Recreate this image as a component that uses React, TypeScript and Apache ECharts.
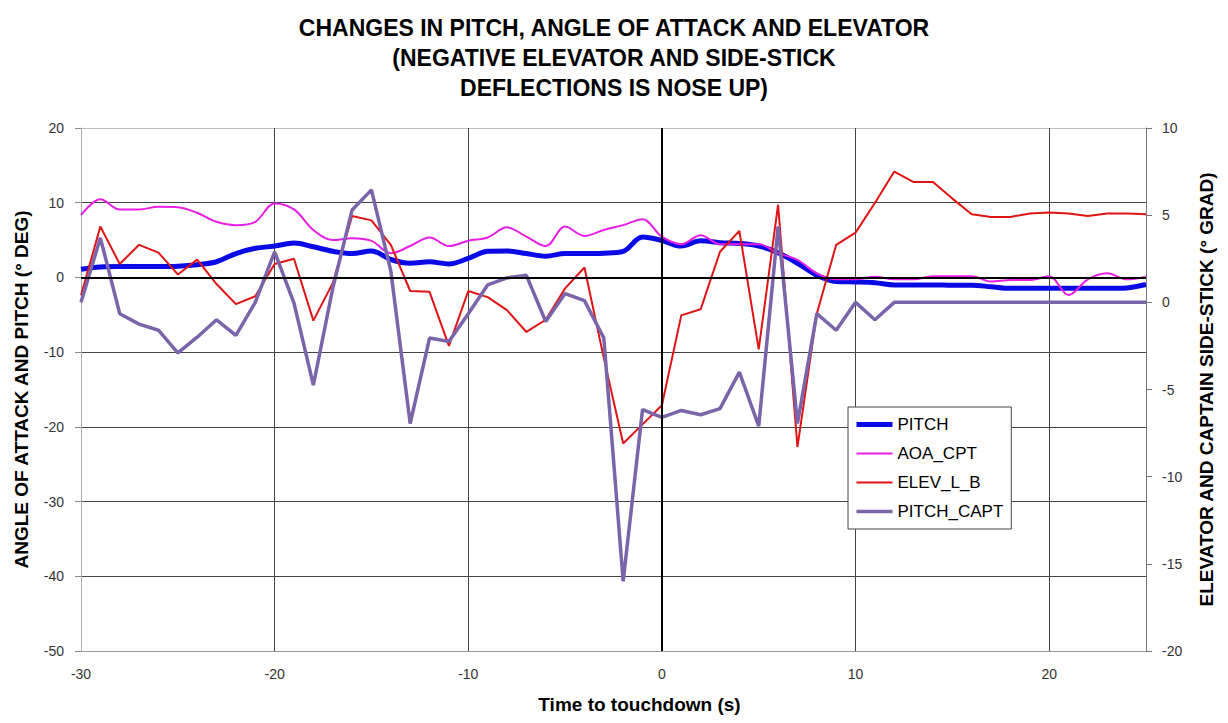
import React, { useEffect, useRef } from "react";
import * as echarts from "echarts";

// Time to touchdown, one sample per second
const time = [
  -30, -29, -28, -27, -26, -25, -24, -23, -22, -21, -20, -19, -18, -17, -16, -15, -14, -13, -12, -11,
  -10, -9, -8, -7, -6, -5, -4, -3, -2, -1, 0, 1, 2, 3, 4, 5, 6, 7, 8, 9,
  10, 11, 12, 13, 14, 15, 16, 17, 18, 19, 20, 21, 22, 23, 24, 25,
];

// Left axis (° DEG)
const pitch = [
  1.1, 1.4, 1.45, 1.45, 1.45, 1.5, 1.7, 2.1, 3.2, 3.9, 4.2, 4.6, 4.1, 3.5, 3.2, 3.55, 2.4, 1.9, 2.1, 1.8,
  2.55, 3.5, 3.55, 3.2, 2.85, 3.2, 3.2, 3.25, 3.5, 5.4, 4.95, 4.2, 4.9, 4.65, 4.55, 4.2, 3.3, 1.9, 0.3, -0.55,
  -0.6, -0.7, -1.0, -1.0, -1.0, -1.05, -1.05, -1.25, -1.45, -1.45, -1.45, -1.45, -1.45, -1.45, -1.4, -0.95,
];

const aoaCpt = [
  8.35, 10.45, 9.1, 9.1, 9.45, 9.4, 8.65, 7.45, 7.0, 7.45, 9.9, 9.1, 6.35, 5.0, 5.25, 4.9, 3.25, 4.2, 5.35, 4.2,
  4.9, 5.35, 6.7, 5.45, 4.2, 6.8, 5.55, 6.35, 7.0, 7.8, 5.45, 4.45, 5.65, 4.45, 4.45, 4.45, 3.25, 2.35, 0.55, -0.25,
  -0.25, 0.1, -0.25, -0.25, 0.15, 0.15, 0.15, -0.55, -0.35, -0.35, 0.15, -2.35, -0.25, 0.55, -0.25, 0.1,
];

// Right axis (° GRAD)
const elevLB = [
  0.4, 4.35, 2.2, 3.3, 2.85, 1.6, 2.45, 1.05, -0.1, 0.35, 2.2, 2.5, -1.05, 1.1, 4.95, 4.7, 3.3, 0.65, 0.6, -2.5,
  0.65, 0.3, -0.45, -1.7, -1.0, 0.8, 2.0, -3.2, -8.1, -7.0, -5.9, -0.75, -0.4, 2.9, 4.1, -2.7, 5.6, -8.3, -0.65, 3.3,
  4.0, 5.7, 7.5, 6.9, 6.9, 5.95, 5.05, 4.9, 4.9, 5.1, 5.15, 5.1, 4.95, 5.1, 5.1, 5.05,
];

const pitchCapt = [
  0.0, 3.7, -0.65, -1.25, -1.6, -2.9, -2.0, -1.0, -1.9, 0.0, 2.9, -0.05, -4.75, 0.8, 5.3, 6.45, 1.8, -6.95, -2.05, -2.25,
  -0.65, 1.0, 1.4, 1.55, -1.1, 0.5, 0.1, -2.05, -16.0, -6.15, -6.6, -6.2, -6.45, -6.1, -4.0, -7.1, 4.35, -6.95, -0.65, -1.6,
  0.0, -1.0, 0, 0, 0, 0, 0, 0, 0, 0, 0, 0, 0, 0, 0, 0,
];

const seriesNames = ["PITCH", "AOA_CPT", "ELEV_L_B", "PITCH_CAPT"];
const seriesColors = ["#0a0ae6", "#e61ee6", "#e01414", "#7a64aa"];
const seriesWidths = [5, 2, 2, 3.5];

const titleLines = [
  "CHANGES IN PITCH, ANGLE OF ATTACK AND ELEVATOR",
  "(NEGATIVE ELEVATOR AND SIDE-STICK",
  "DEFLECTIONS IS NOSE UP)",
];

const FONT = "'Liberation Sans', Arial, Helvetica, sans-serif";

const pairs = (values: number[]) => time.map((t, i) => [t, values[i]]);

export default function App() {
  const ref = useRef<HTMLDivElement>(null);

  useEffect(() => {
    if (!ref.current) return;
    const chart = echarts.init(ref.current, null, { renderer: "svg" });

    const lineSeries = (i: number, values: number[], yAxisIndex: number, smooth: number | boolean) => ({
      name: seriesNames[i],
      type: "line",
      yAxisIndex,
      data: pairs(values),
      smooth,
      symbol: "none",
      color: seriesColors[i],
      lineStyle: { width: seriesWidths[i], color: seriesColors[i] },
    });

    const option = {
      animation: false,
      backgroundColor: "#ffffff",
      textStyle: { fontFamily: FONT },
      title: {
        text: titleLines.join("\n"),
        left: "center",
        top: 8,
        textStyle: {
          fontFamily: FONT,
          fontSize: 23,
          fontWeight: "bold",
          color: "#000",
          lineHeight: 30,
        },
      },
      legend: {
        orient: "vertical",
        left: 848,
        top: 407,
        data: seriesNames.map((name, i) => ({
          name,
          lineStyle: { width: seriesWidths[i], color: seriesColors[i] },
        })),
        backgroundColor: "#ffffff",
        borderColor: "#444",
        borderWidth: 1,
        padding: [9, 8, 9, 6],
        itemWidth: 36,
        itemHeight: 14,
        itemGap: 12,
        // line-only keys: hide the marker drawn in the middle of each key
        itemStyle: { opacity: 0 },
        textStyle: { fontFamily: FONT, fontSize: 17, color: "#000" },
      },
      grid: { left: 81, right: 82, top: 128, bottom: 72, containLabel: false },
      xAxis: {
        type: "value",
        min: -30,
        max: 25,
        interval: 10,
        name: "Time to touchdown (s)",
        nameLocation: "middle",
        nameGap: 44,
        nameTextStyle: {
          fontFamily: FONT,
          fontSize: 19,
          fontWeight: "bold",
          color: "#000",
          padding: [0, 0, 0, 52],
        },
        axisLine: { onZero: false, lineStyle: { color: "#999", width: 1 } },
        axisTick: { show: false },
        axisLabel: { fontSize: 14, color: "#333", margin: 16, showMaxLabel: false, fontFamily: FONT },
        splitLine: {
          show: true,
          lineStyle: { color: ["#999", "#444", "#444", "#000", "#444", "#444", "#888"], width: 1 },
        },
      },
      yAxis: [
        {
          type: "value",
          position: "left",
          min: -50,
          max: 20,
          interval: 10,
          name: "ANGLE OF ATTACK AND PITCH (° DEG)",
          nameLocation: "middle",
          nameGap: 50,
          nameTextStyle: { fontFamily: FONT, fontSize: 19, fontWeight: "bold", color: "#000" },
          axisLine: { show: true, onZero: false, lineStyle: { color: "#aaa", width: 1 } },
          axisTick: { show: true, length: 6, lineStyle: { color: "#888" } },
          axisLabel: { fontSize: 14, color: "#333", margin: 17, fontFamily: FONT },
          splitLine: {
            show: true,
            lineStyle: {
              color: ["#999", "#444", "#444", "#444", "#444", "#000", "#444", "#bbb"],
              width: 1,
            },
          },
        },
        {
          type: "value",
          position: "right",
          min: -20,
          max: 10,
          interval: 5,
          name: "ELEVATOR AND CAPTAIN SIDE-STICK (° GRAD)",
          nameLocation: "middle",
          nameGap: 51,
          nameTextStyle: { fontFamily: FONT, fontSize: 19, fontWeight: "bold", color: "#000" },
          axisLine: { show: true, onZero: false, lineStyle: { color: "#777", width: 1 } },
          axisTick: { show: true, length: 6, lineStyle: { color: "#777" } },
          axisLabel: { fontSize: 14, color: "#333", margin: 16, fontFamily: FONT },
          splitLine: { show: false },
        },
      ],
      series: [
        {
          ...lineSeries(0, pitch, 0, 0.35),
          // zero reference lines of the time and angle axes
          markLine: {
            silent: true,
            symbol: ["none", "none"],
            label: { show: false },
            lineStyle: { color: "#000", width: 2, type: "solid" },
            data: [{ xAxis: 0 }, { yAxis: 0 }],
          },
        },
        lineSeries(1, aoaCpt, 0, 0.35),
        lineSeries(2, elevLB, 1, false),
        lineSeries(3, pitchCapt, 1, false),
      ],
    };

    chart.setOption(option as any);
    return () => chart.dispose();
  }, []);

  return (
    <div
      ref={ref}
      style={{ position: "fixed", left: 0, top: 0, width: 1228, height: 723, background: "#fff" }}
    />
  );
}
